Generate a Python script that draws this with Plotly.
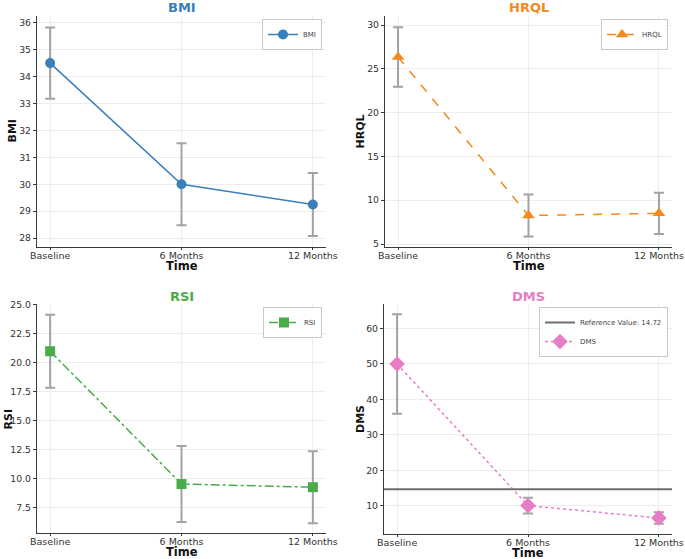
import plotly.graph_objects as go

# ---- data ----
time_labels = ["Baseline", "6 Months", "12 Months"]
bmi_mean = [34.5, 30.0, 29.25]
bmi_err = [1.32, 1.52, 1.17]
hrql_mean = [26.35, 8.25, 8.5]
hrql_err = [3.4, 2.4, 2.35]
rsi_mean = [21.0, 9.55, 9.28]
rsi_err = [3.15, 3.28, 3.1]
dms_mean = [50.0, 10.1, 6.6]
dms_err = [14.0, 2.2, 1.6]
dms_reference = 14.72

bmi_ticks = [28, 29, 30, 31, 32, 33, 34, 35, 36]
hrql_ticks = [5, 10, 15, 20, 25, 30]
rsi_ticks = [7.5, 10.0, 12.5, 15.0, 17.5, 20.0, 22.5, 25.0]
dms_ticks = [10, 20, 30, 40, 50, 60]

W, H = 685, 559
FONT = "DejaVu Sans"
ERR_COLOR = "#a3a3a3"
GRID = "#ededed"
AX = "#3a3a3a"

panels = [
    dict(name="BMI", mean=bmi_mean, err=bmi_err, color="#3b7fba", dash="solid",
         symbol="circle", msize=10, ticks=bmi_ticks, fmt="d", yr=[27.67, 36.25],
         px=(37, 326), py=(16, 247), ytx=12),
    dict(name="HRQL", mean=hrql_mean, err=hrql_err, color="#f4891c", dash="dash",
         symbol="triangle-up", msize=11, ticks=hrql_ticks, fmt="d", yr=[4.66, 31.03],
         px=(385, 672), py=(16, 247), ytx=360),
    dict(name="RSI", mean=rsi_mean, err=rsi_err, color="#4aab4a", dash="dashdot",
         symbol="square", msize=10, ticks=rsi_ticks, fmt=".1f", yr=[5.33, 25.07],
         px=(37, 326), py=(304, 533), ytx=8),
    dict(name="DMS", mean=dms_mean, err=dms_err, color="#e77dc4", dash="dot",
         symbol="diamond", msize=12, ticks=dms_ticks, fmt="d", yr=[2.1, 66.9],
         px=(384, 672), py=(304, 534), ytx=360),
]

fig = go.Figure()
layout = dict(
    width=W, height=H, margin=dict(l=0, r=0, t=0, b=0, autoexpand=False),
    paper_bgcolor="white", plot_bgcolor="white",
    font=dict(family=FONT, color="#333333", size=9.5),
    showlegend=True,
)
annotations = []

for i, p in enumerate(panels):
    n = "" if i == 0 else str(i + 1)
    xa, ya = "x" + n, "y" + n
    lg = "legend" + n
    x0, x1 = p["px"][0] / W, p["px"][1] / W
    y0, y1 = 1 - p["py"][1] / H, 1 - p["py"][0] / H

    layout["xaxis" + n] = dict(
        domain=[x0, x1], anchor=ya, type="category", range=[-0.1, 2.1],
        showline=True, linecolor=AX, linewidth=1.2, mirror=False, automargin=False,
        ticks="outside", ticklen=2, tickcolor=AX,
        showgrid=True, gridcolor=GRID, gridwidth=1, zeroline=False,
        tickfont=dict(size=9.5), ticklabelstandoff=-3,
    )
    layout["yaxis" + n] = dict(
        domain=[y0, y1], anchor=xa, range=p["yr"],
        tickvals=p["ticks"], tickformat=p["fmt"], automargin=False,
        showline=True, linecolor=AX, linewidth=1.2, mirror=False,
        ticks="outside", ticklen=3, tickcolor=AX,
        showgrid=True, gridcolor=GRID, gridwidth=1, zeroline=False,
        tickfont=dict(size=9.3),
    )
    layout[lg] = dict(
        x=x1 - 4 / W, y=y1 - 3 / H, xanchor="right", yanchor="top",
        bgcolor="rgba(255,255,255,0.9)", bordercolor="#c8c8c8", borderwidth=1,
        font=dict(size=7, color="#444444"), itemwidth=30, tracegroupgap=0,
    )
    # panel title
    annotations.append(dict(
        text="<b>%s</b>" % p["name"], x=(x0 + x1) / 2, xref="paper", xanchor="center",
        y=1 - (p["py"][0] - 8) / H, yref="paper", yanchor="middle", showarrow=False,
        font=dict(size=13, color=p["color"], family=FONT),
    ))
    # x-axis title
    annotations.append(dict(
        text="<b>Time</b>", x=(x0 + x1) / 2, xref="paper", xanchor="center",
        y=1 - (p["py"][1] + 19) / H, yref="paper", yanchor="middle", showarrow=False,
        font=dict(size=11.5, color="#111111", family=FONT),
    ))
    # y-axis title
    annotations.append(dict(
        text="<b>%s</b>" % p["name"], x=p["ytx"] / W, xref="paper", xanchor="center",
        y=(y0 + y1) / 2, yref="paper", yanchor="middle", showarrow=False, textangle=-90,
        font=dict(size=11, color="#111111", family=FONT),
    ))

    fig.add_trace(go.Scatter(
        x=time_labels, y=p["mean"], name=p["name"], mode="lines+markers",
        xaxis=xa, yaxis=ya, legend=lg, legendrank=2,
        line=dict(color=p["color"], width=1.5, dash=p["dash"]),
        marker=dict(symbol=p["symbol"], size=p["msize"], color=p["color"]),
        error_y=dict(type="data", array=p["err"], visible=True, color=ERR_COLOR,
                     thickness=2, width=5),
    ))

    if p["name"] == "DMS":
        fig.add_shape(type="line", xref="x4 domain", yref="y4",
                      x0=0, x1=1, y0=dms_reference, y1=dms_reference,
                      line=dict(color="#6e6e6e", width=2),
                      showlegend=True, name="Reference Value: %.2f" % dms_reference,
                      legend="legend4", legendrank=1, layer="above")

layout["annotations"] = annotations
fig.update_layout(**layout)
fig.write_html("out.html")
